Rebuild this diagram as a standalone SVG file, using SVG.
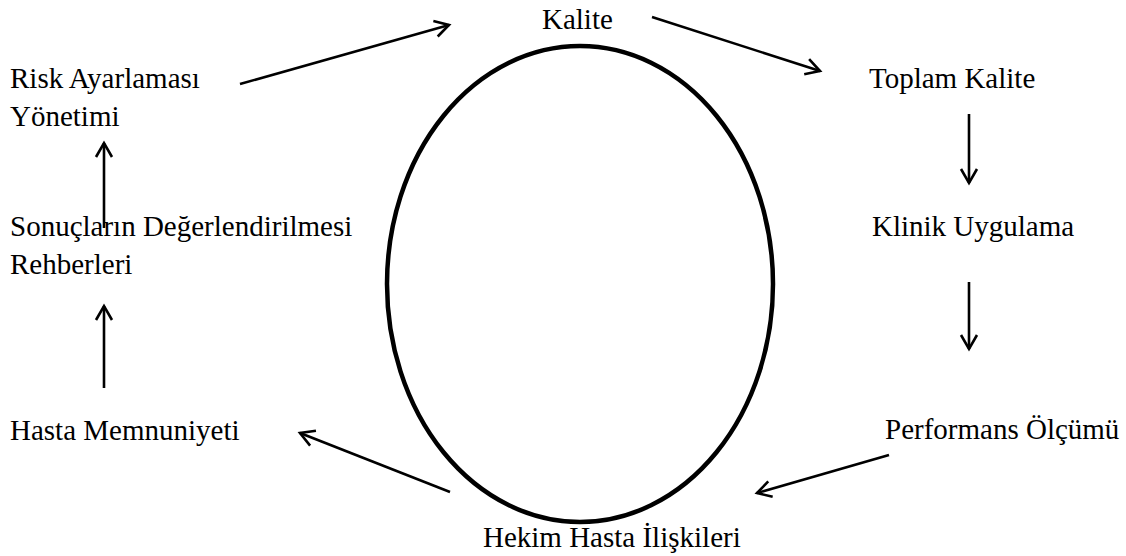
<svg xmlns="http://www.w3.org/2000/svg" width="1126" height="556" viewBox="0 0 1126 556">
<style>
text{font-family:"Liberation Serif","Times New Roman",serif;font-size:29px;fill:#000}
.c line{stroke:#000;stroke-width:2.6;fill:none;marker-end:url(#ah)}
</style>
<defs>
<marker id="ah" viewBox="0 0 20 20" refX="17" refY="10" markerWidth="20" markerHeight="20" markerUnits="userSpaceOnUse" orient="auto">
<path d="M3,2 L17,10 L3,18" fill="none" stroke="#000" stroke-width="2.6"/>
</marker>
</defs>
<rect width="1126" height="556" fill="#fff"/>
<g id="circle"><ellipse cx="580" cy="284" rx="193" ry="238" fill="none" stroke="#000" stroke-width="4.5"/></g>
<g id="n-kalite"><text x="542" y="29">Kalite</text></g>
<g id="n-toplam"><text x="869" y="88">Toplam Kalite</text></g>
<g id="n-klinik"><text x="872" y="236">Klinik Uygulama</text></g>
<g id="n-performans"><text x="885" y="439">Performans Ölçümü</text></g>
<g id="n-hekim"><text x="483" y="547">Hekim Hasta İlişkileri</text></g>
<g id="n-hasta"><text x="10" y="440">Hasta Memnuniyeti</text></g>
<g id="n-sonuc"><text x="10" y="236">Sonuçların Değerlendirilmesi</text><text x="10" y="274">Rehberleri</text></g>
<g id="n-risk"><text x="10" y="88">Risk Ayarlaması</text><text x="10" y="126">Yönetimi</text></g>
<g id="connectors" class="c">
<line x1="240" y1="84" x2="449" y2="25"/>
<line x1="652" y1="17" x2="820" y2="71"/>
<line x1="969" y1="114" x2="969" y2="183"/>
<line x1="969" y1="282" x2="969" y2="349"/>
<line x1="889" y1="455" x2="757" y2="493"/>
<line x1="450" y1="492" x2="300" y2="433"/>
<line x1="104" y1="388" x2="104" y2="306"/>
<line x1="104" y1="228" x2="104" y2="143"/>
</g>
</svg>
